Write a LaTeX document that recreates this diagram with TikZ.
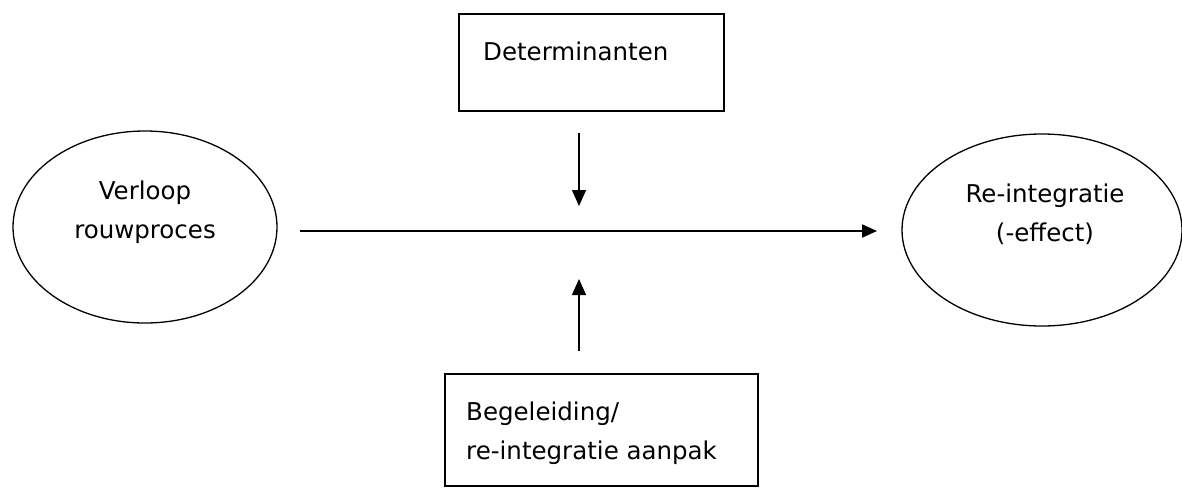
\documentclass[tikz,border=0pt]{standalone}
\usepackage{fontspec}
\setmainfont{DejaVu Sans}
\usetikzlibrary{shapes.geometric,arrows.meta}
\tikzset{
  ovalbox/.style={draw, ellipse, line width=1.3pt, inner sep=0pt},
  rectbox/.style={draw, rectangle, line width=1.3pt, inner sep=0pt},
  txt/.style={inner sep=0pt, font=\fontsize{24.5}{39}\selectfont},
  mainarrow/.style={line width=2pt, -{Triangle[length=15pt,width=13pt]}},
  sidearrow/.style={line width=1.3pt, -{Triangle[length=16pt,width=14pt]}}
}
\begin{document}
\begin{tikzpicture}[x=1pt,y=-1pt]
\useasboundingbox (0,0) rectangle (1182,488);
% ellipses
\node[ovalbox, minimum width=264pt, minimum height=192pt] (verloop) at (145,227) {};
\node[txt, anchor=north, align=center] (verlooptxt) at (145,181) {Verloop\\rouwproces};
\node[ovalbox, minimum width=280pt, minimum height=192pt] (reint) at (1042,230) {};
\node[txt, anchor=north, align=center] (reinttxt) at (1045,184) {Re-integratie\\(-effect)};
% boxes
\node[rectbox, minimum width=265pt, minimum height=97pt] (det) at (591.5,62.5) {};
\node[txt, anchor=north west, align=left] (dettxt) at (483,41.5) {Determinanten};
\node[rectbox, minimum width=313pt, minimum height=112pt] (beg) at (601.5,430) {};
\node[txt, anchor=north west, align=left] (begtxt) at (466,401.5) {Begeleiding/\\re-integratie aanpak};
% connector coordinates
\coordinate (mstart) at (300,231);
\coordinate (mend) at (877,231);
\coordinate (dstart) at (579,133);
\coordinate (dend) at (579,206);
\coordinate (ustart) at (579,351);
\coordinate (uend) at (579,279);
% arrows
\draw[mainarrow] (mstart) -- (mend);
\draw[sidearrow] (dstart) -- (dend);
\draw[sidearrow] (ustart) -- (uend);
\end{tikzpicture}
\end{document}
